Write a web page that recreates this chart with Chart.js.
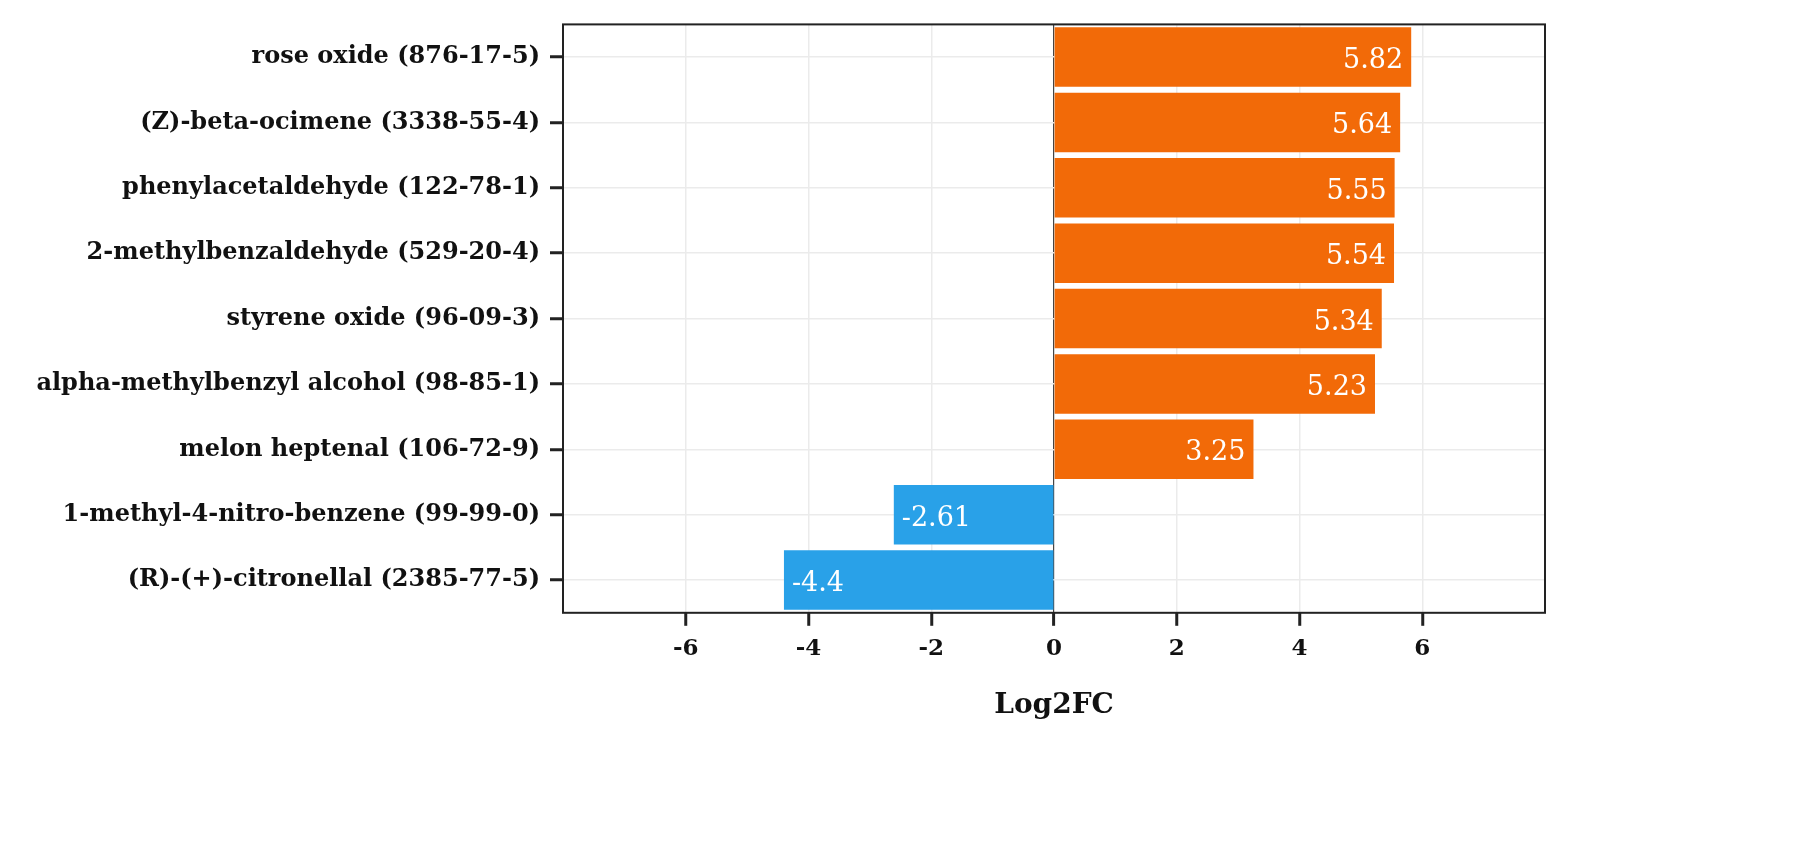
<!DOCTYPE html>
<html>
<head>
<meta charset="utf-8">
<script src="https://cdn.jsdelivr.net/npm/chart.js@4.4.1/dist/chart.umd.min.js"></script>
<style>
  html, body { margin: 0; padding: 0; background: #fff; }
  #wrap { width: 1810px; height: 855px; position: relative; }
</style>
</head>
<body>
<div id="wrap"><canvas id="chart"></canvas></div>
<script>
// Log2FC of volatile compounds, top to bottom as in the figure
const compounds = [
  "rose oxide (876-17-5)",
  "(Z)-beta-ocimene (3338-55-4)",
  "phenylacetaldehyde (122-78-1)",
  "2-methylbenzaldehyde (529-20-4)",
  "styrene oxide (96-09-3)",
  "alpha-methylbenzyl alcohol (98-85-1)",
  "melon heptenal (106-72-9)",
  "1-methyl-4-nitro-benzene (99-99-0)",
  "(R)-(+)-citronellal (2385-77-5)",
];
const log2fc = [5.82, 5.64, 5.55, 5.54, 5.34, 5.23, 3.25, -2.61, -4.4];
const xTicks = [-6, -4, -2, 0, 2, 4, 6];

const UP = "#f26a08", DOWN = "#29a1e8";
const SERIF = "'DejaVu Serif', Georgia, serif";

// white value labels inside the bar ends
const barLabels = {
  id: "barLabels",
  afterDatasetsDraw(chart) {
    const { ctx } = chart;
    const meta = chart.getDatasetMeta(0);
    ctx.save();
    ctx.fillStyle = "#fff";
    ctx.font = "27px " + SERIF;
    ctx.textBaseline = "middle";
    meta.data.forEach((bar, i) => {
      const v = log2fc[i];
      if (v >= 0) { ctx.textAlign = "right"; ctx.fillText(String(v), bar.x - 8, bar.y + 4); }
      else { ctx.textAlign = "left"; ctx.fillText(String(v), bar.x + 8, bar.y + 4); }
    });
    ctx.restore();
  },
};

// black frame round the panel
const frame = {
  id: "frame",
  afterDraw(chart) {
    const { ctx, chartArea: a } = chart;
    ctx.save();
    ctx.strokeStyle = "#222";
    ctx.lineWidth = 2;
    ctx.strokeRect(a.left, a.top, a.right - a.left, a.bottom - a.top);
    ctx.restore();
  },
};

new Chart(document.getElementById("chart"), {
  type: "bar",
  data: {
    labels: compounds,
    datasets: [{
      data: log2fc,
      backgroundColor: log2fc.map((v) => (v >= 0 ? UP : DOWN)),
      borderWidth: 0,
      categoryPercentage: 0.91,
      barPercentage: 1,
    }],
  },
  options: {
    indexAxis: "y",
    responsive: true, maintainAspectRatio: false, animation: false,
    layout: { padding: { left: 0, right: 265, top: 20, bottom: 132 } },
    plugins: { legend: { display: false }, tooltip: { enabled: false } },
    scales: {
      x: {
        min: -8, max: 8,
        afterBuildTicks: (s) => { s.ticks = xTicks.map((v) => ({ value: v })); },
        ticks: { color: "#111", font: { family: SERIF, size: 23, weight: "bold" }, padding: 9 },
        grid: {
          color: (c) => (c.tick && c.tick.value === 0 ? "#444" : "#ebebeb"),
          lineWidth: (c) => (c.tick && c.tick.value === 0 ? 1.2 : 1.5),
          tickColor: "#222", tickLength: 13, tickWidth: 3,
        },
        border: { display: false },
        title: { display: true, text: "Log2FC", color: "#111", font: { family: SERIF, size: 28, weight: "bold" }, padding: { top: 18, bottom: 0 } },
      },
      y: {
        offset: true,
        afterFit: (s) => { s.width = 563; },
        ticks: { color: "#111", font: { family: SERIF, size: 24, weight: "bold" }, padding: 10 },
        grid: { color: "#ebebeb", lineWidth: 1.5, tickColor: "#222", tickLength: 13, tickWidth: 3, offset: false },
        border: { display: false },
      },
    },
  },
  plugins: [barLabels, frame],
});
</script>
</body>
</html>
